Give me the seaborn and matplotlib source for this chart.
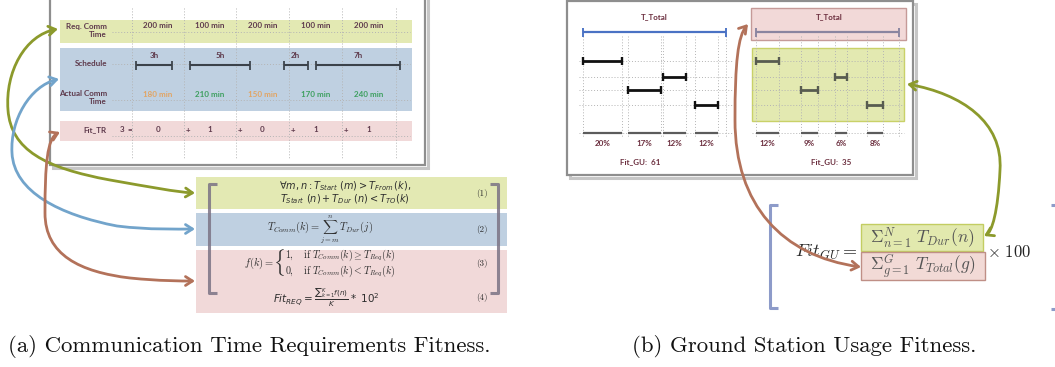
import matplotlib
matplotlib.use("Agg")
import matplotlib.pyplot as plt
import seaborn as sns
from matplotlib.patches import Rectangle, FancyArrowPatch
from matplotlib.path import Path

sns.set_theme(style="white")
plt.rcParams['font.family'] = ['Lato', 'DejaVu Sans']
plt.rcParams['mathtext.fontset'] = 'cm'

# ---------------- data ----------------
req_minutes = [200, 100, 200, 100, 200]
actual_minutes = [180, 210, 150, 170, 240]
pass_start_h = [0.0, 4.5, 12.3, 15.0]
pass_dur_h = [3, 5, 2, 7]

gu_pct_a = [20, 12, 17, 12]          # one value per row
gu_start_a = [0, 41, 23, 57.4]
gu_pct_b = [12, 6, 9, 8]
gu_start_b = [0, 40.5, 23, 57]
t_total = 73.3

caption_a = "(a) Communication Time Requirements Fitness."
caption_b = "(b) Ground Station Usage Fitness."

# ---------------- colours ----------------
LABEL = '#5e3a4c'
MAROON = '#6b2e3e'
BAND_G = '#e3e9b3'
BAND_B = '#bfd0e1'
BAND_P = '#f1d9d9'
ARR_G = '#8c9a2c'
ARR_B = '#72a4cb'
ARR_R = '#b3725a'
GRID = '#b4b4b4'
OK_C = '#3d9f5f'
BAD_C = '#e2a462'

W, H = 1055, 367
fig = plt.figure(figsize=(W / 100, H / 100), dpi=100)


def layer(x0=0.0, scale=1.0, z=0):
    """Full-figure axes whose x unit 0 sits at pixel x0, `scale` px per unit."""
    a = fig.add_axes([0, 0, 1, 1], zorder=z)
    a.set_xlim(-x0 / scale, (W - x0) / scale)
    a.set_ylim(H, 0)
    a.axis('off')
    a.patch.set_alpha(0)
    return a


ax = layer(z=0)
ax_s = layer(136, 12.0, z=2)
ax_ga = layer(583, 1.95, z=2)
ax_gb = layer(756, 1.95, z=2)
ax_top = layer(z=5)

tkw = dict(fontsize=5.8, fontweight='bold')


def frame(x0, y0, x1, y1):
    ax.add_patch(Rectangle((x0 + 2.5, y0 + 2.5), x1 - x0, y1 - y0, fill=False,
                           ec='#c6c6c6', lw=2.2, zorder=1))
    ax.add_patch(Rectangle((x0, y0), x1 - x0, y1 - y0, fc='white',
                           ec='#8e8e8e', lw=1.6, zorder=2))


def band(x0, y0, x1, y1, fc, ec='none', z=3, a=None):
    (a or ax).add_patch(Rectangle((x0, y0), x1 - x0, y1 - y0, fc=fc, ec=ec,
                                  lw=1.0, zorder=z))


def interval(a, x0, x1, y, color, lw=1.6, cap=5, z=6):
    a.hlines(y, x0, x1, color=color, lw=lw, zorder=z)
    a.vlines([x0, x1], y - cap, y + cap, color=color, lw=lw * 0.85, zorder=z)


# ================= panel (a): table =================
frame(50, -6, 425, 165)
band(60, 19.5, 412, 43, BAND_G)
band(60, 48, 412, 111, BAND_B)
band(60, 121, 412, 141, BAND_P)

col_edges = [132, 184, 236, 289, 342, 396]
col_mid = [(l + r) / 2 for l, r in zip(col_edges[:-1], col_edges[1:])]
ax.vlines(col_edges, 8, 158, color=GRID, lw=0.7, ls=(0, (1, 2)), zorder=4)
ax.hlines([32, 64, 100, 136], 112, 410, color=GRID, lw=0.7, ls=(0, (1, 2)), zorder=4)

ax.text(107, 30.5, "Req. Comm\nTime", ha='right', va='center', color=LABEL,
        linespacing=1.25, zorder=7, **tkw)
ax.text(107, 63, "Schedule", ha='right', va='center', color=LABEL, zorder=7, **tkw)
ax.text(107, 97.5, "Actual Comm\nTime", ha='right', va='center', color=LABEL,
        linespacing=1.25, zorder=7, **tkw)
ax.text(107, 130, "Fit_TR", ha='right', va='center', color=LABEL, zorder=7, **tkw)

for xm, r in zip(col_mid, req_minutes):
    ax.text(xm, 25, f"{r} min", ha='center', va='center', color=LABEL, zorder=7, **tkw)

for xm, r, a_ in zip(col_mid, req_minutes, actual_minutes):
    ax.text(xm, 94.5, f"{a_} min", ha='center', va='center',
            color=OK_C if a_ >= r else BAD_C, zorder=7, **tkw)

fit_terms = [1 if a_ >= r else 0 for r, a_ in zip(req_minutes, actual_minutes)]
ax.text(122, 130, f"{sum(fit_terms)}", ha='center', va='center', color=LABEL, zorder=7, **tkw)
ax.text(130, 130, "=", ha='center', va='center', color=LABEL, zorder=7, **tkw)
for i, (xm, f) in enumerate(zip(col_mid, fit_terms)):
    ax.text(xm, 130, f"{f}", ha='center', va='center', color=LABEL, zorder=7, **tkw)
    if i > 0:
        ax.text(col_edges[i] + 4, 130, "+", ha='center', va='center', color=LABEL,
                zorder=7, **tkw)

for s, d in zip(pass_start_h, pass_dur_h):
    interval(ax_s, s, s + d, 65, '#3b424a', lw=1.5, cap=4.5)
    ax_s.text(s + d / 2, 56, f"{d}h", ha='center', va='center', color=LABEL, **tkw)

# ================= panel (a): formulas =================
band(196, 177, 507, 209, BAND_G)
band(196, 213, 507, 246, BAND_B)
band(196, 250, 507, 313, BAND_P)

brk = dict(color='#7b7385', lw=2.2, alpha=0.85, zorder=6, solid_capstyle='butt')
ax.plot([217, 209, 209, 217], [184, 184, 293, 293], **brk)
ax.plot([490, 498, 498, 490], [184, 184, 293, 293], **brk)

EQ = '#2e2e2e'
ax.text(345, 186, r"$\forall m,n : T_{Start}\ (m) > T_{From}\,(k),$", ha='center',
        va='center', fontsize=7, color=EQ, math_fontfamily='dejavusans', zorder=7)
ax.text(345, 199, r"$T_{Start}\ (n) + T_{Dur}\ (n) < T_{TO}(k)$", ha='center',
        va='center', fontsize=7, color=EQ, math_fontfamily='dejavusans', zorder=7)
ax.text(320, 229, r"$T_{Comm}(k) = \sum_{j=m}^{n}\, T_{Dur}(j)$", ha='center',
        va='center', fontsize=7.5, color=EQ, zorder=7)
ax.text(259, 263, r"$f(k) =$", ha='center', va='center', fontsize=7.5, color=EQ, zorder=7)
ax.text(279, 262.5, r"$\{$", ha='center', va='center', fontsize=15, color=EQ, zorder=7)
ax.text(285, 263, r"$1,\quad \mathrm{if}\ T_{Comm}(k) \geq T_{Req}(k)$" + "\n"
        + r"$0,\quad \mathrm{if}\ T_{Comm}(k) < T_{Req}(k)$", ha='left',
        va='center', fontsize=7.2, color=EQ, linespacing=1.05, zorder=7)
ax.text(326, 298, r"$Fit_{REQ} = \frac{\sum{}_{k=1}^{K} f(n)}{K} *\ 10^{2}$",
        ha='center', va='center', fontsize=7.5, color=EQ,
        math_fontfamily='dejavusans', zorder=7)
for yy, lab in zip([193, 229, 263, 298], ["(1)", "(2)", "(3)", "(4)"]):
    ax.text(482, yy, lab, ha='center', va='center', fontsize=6.5, color=EQ,
            fontfamily='cmr10', zorder=7)

# ================= panel (b): usage =================
frame(567, 1, 913, 175)
band(751, 8, 906, 40, '#f2d9d8', ec='#c59a98', z=3)
band(752, 48, 904, 121, '#e3e9b1', ec='#c9d168', z=3)


def usage(a, pct, start, bar_col, total_col, hx1):
    ends = [s + p for s, p in zip(start, pct)]
    xs = sorted(set([0, t_total] + list(start) + ends))
    a.vlines(xs, 36, 138, color=GRID, lw=0.7, ls=(0, (1, 2)), zorder=4)
    a.hlines([61, 77, 90, 105, 133], -1.8, hx1, color=GRID, lw=0.7,
             ls=(0, (1, 2)), zorder=4)
    interval(a, 0, t_total, 32, total_col, lw=1.6, cap=4.5)
    rows_y = [61, 77, 90, 105]
    for y, s, p in zip(rows_y, start, pct):
        interval(a, s, s + p, y, bar_col, lw=2.0, cap=4)
        a.hlines(133, s, s + p, color='#5c5c5c', lw=1.6, zorder=5)
        a.text(s + p / 2, 144, f"{p}%", ha='center', va='center', color=MAROON, **tkw)
    return sum(pct)


fit_a = usage(ax_ga, gu_pct_a, gu_start_a, '#111111', '#4a72c4', 76.5)
fit_b = usage(ax_gb, gu_pct_b, gu_start_b, '#585c50', '#8a85a0', 76.0)
ax.text(654, 17, "T_Total", ha='center', va='center', color=MAROON, zorder=7, **tkw)
ax.text(829, 17, "T_Total", ha='center', va='center', color=MAROON, zorder=7, **tkw)
ax.text(640, 162, f"Fit_GU:  {fit_a}", ha='center', va='center', color=MAROON,
        zorder=7, **tkw)
ax.text(831, 162, f"Fit_GU:  {fit_b}", ha='center', va='center', color=MAROON,
        zorder=7, **tkw)

# ================= panel (b): formula =================
bkb = dict(color='#8d9bc9', lw=2.2, zorder=6, solid_capstyle='butt')
ax.plot([778, 770, 770, 778], [205, 205, 308, 308], **bkb)
ax.plot([1051, 1056], [205, 205], **bkb)
ax.plot([1051, 1056], [309, 309], **bkb)

ax.hlines(251.5, 861, 984, color='#444444', lw=0.8, zorder=5)
band(861, 224, 983, 251, '#e2e9ae', ec='#c3cd62', z=6)
band(861, 252, 985, 280, '#f2dad6', ec='#bf8f86', z=6)
ax.text(826, 252, r"$Fit_{GU} =$", ha='center', va='center', fontsize=13,
        color='#2a2a2a', zorder=7)
ax.text(922, 238, r"$\Sigma_{n=1}^{N}\ T_{Dur}(n)$", ha='center', va='center',
        fontsize=12.5, color='#555555', zorder=7)
ax.text(923, 266, r"$\Sigma_{g=1}^{G}\ T_{Total}(g)$", ha='center', va='center',
        fontsize=12.5, color='#555555', zorder=7)
ax.text(987, 252, r"$\times\ 100$", ha='left', va='center', fontsize=12,
        color='#222222', zorder=7)

# ================= connectors =================
M, C = Path.MOVETO, Path.CURVE4


def connector(verts, color):
    codes = [M] + [C] * (len(verts) - 1)
    p = FancyArrowPatch(path=Path(verts, codes), arrowstyle='<->,head_length=5,head_width=3.2',
                        color=color, lw=2.0, zorder=9, mutation_scale=1,
                        joinstyle='round', capstyle='round')
    ax_top.add_patch(p)


connector([(58, 29), (25, 35), (5, 72), (8, 110),
           (11, 150), (45, 168), (110, 180),
           (150, 187), (176, 192), (195, 193)], ARR_G)
connector([(59, 79), (30, 86), (10, 120), (12, 153),
           (14, 192), (60, 215), (117, 226),
           (150, 230), (176, 229), (195, 229)], ARR_B)
connector([(60, 132), (47, 138), (45, 165), (45, 213),
           (45, 255), (80, 272), (130, 278),
           (160, 281), (180, 281), (195, 281)], ARR_R)
connector([(748, 24), (738, 36), (735, 62), (735, 120),
           (735, 205), (782, 256), (861, 267)], ARR_R)
connector([(907, 84), (962, 94), (1003, 122), (1000, 170),
           (998, 212), (992, 232), (984, 236)], ARR_G)

# ================= captions =================
ax.text(8, 346, caption_a, ha='left', va='center', fontsize=16.4,
        fontfamily='cmr10', color='#111111')
ax.text(632, 346, caption_b, ha='left', va='center', fontsize=16.4,
        fontfamily='cmr10', color='#111111')

fig.savefig("out.png", dpi=100, facecolor='white')
